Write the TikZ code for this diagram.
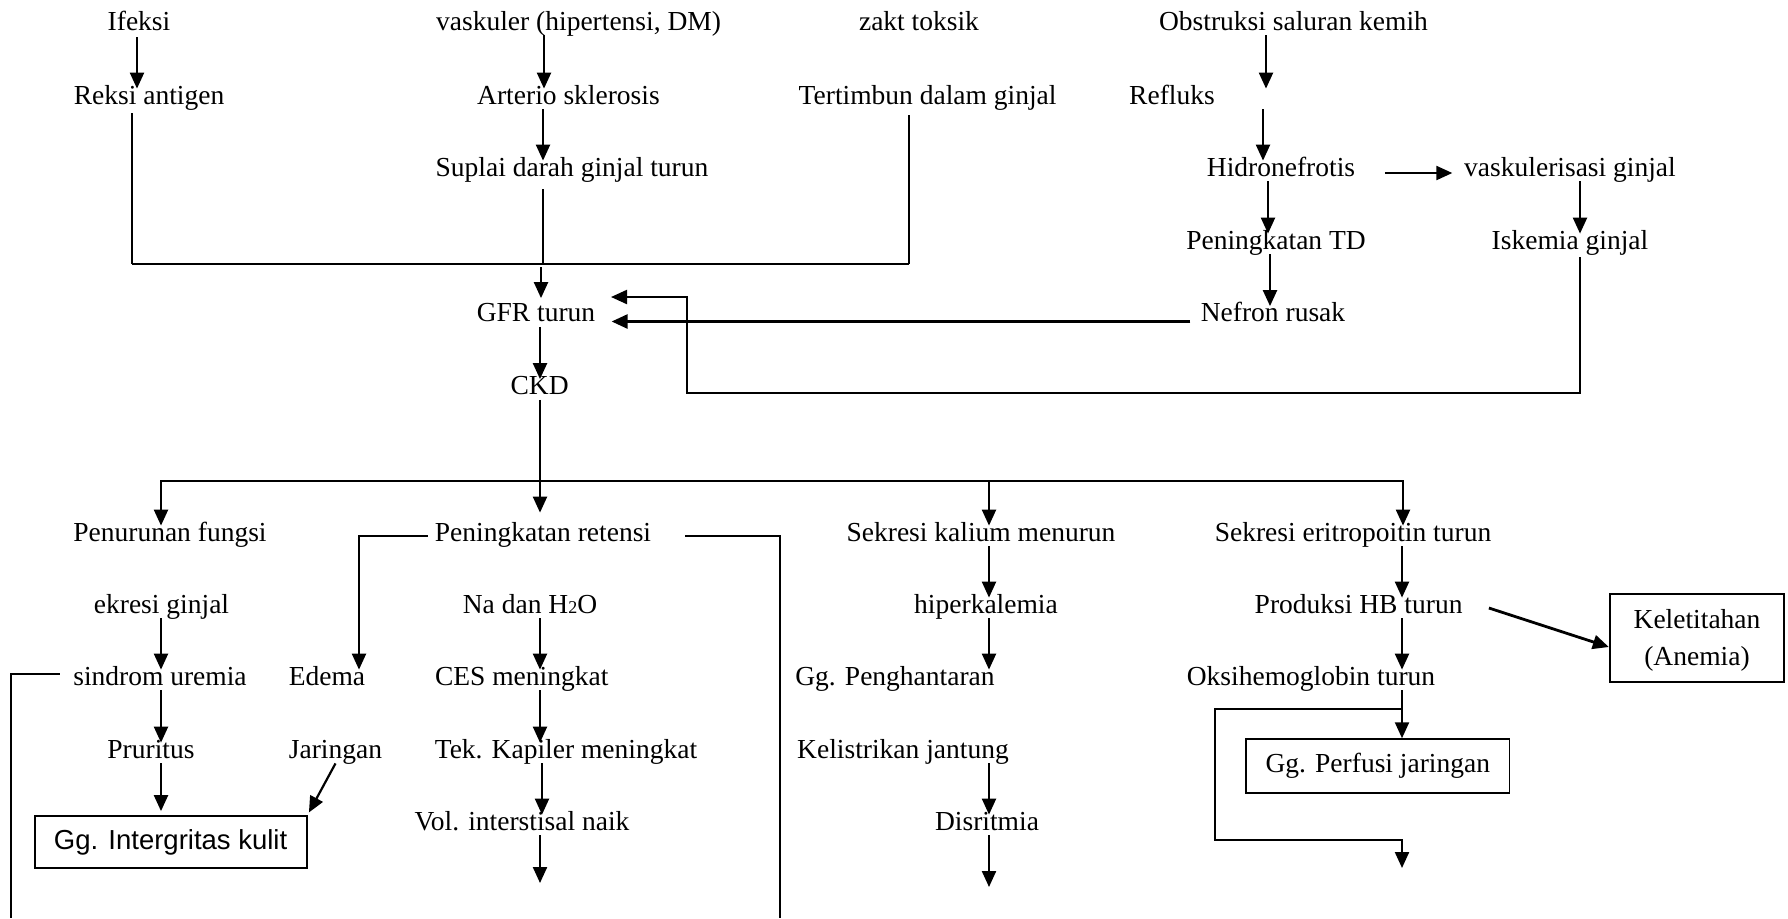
\documentclass[tikz,border=0pt]{standalone}
\usepackage{fontspec}
\setmainfont{Liberation Serif}
\newfontfamily\arialf{Liberation Sans}
\usetikzlibrary{arrows.meta,calc}
\begin{document}
\begin{tikzpicture}[x=0.5pt,y=-0.5pt,
  font=\fontsize{13.75}{18.5}\selectfont,
  txt/.style={inner sep=0pt,text height=0.75em,text depth=0.25em,anchor=base},
  ln/.style={line width=1.1pt},
  thinln/.style={line width=0.8pt},
  arr/.style={line width=1.1pt,-{Triangle[length=8pt,width=7pt]}},
  boxn/.style={draw,line width=0.9pt,inner sep=0pt,align=center}]
\useasboundingbox (0,0) rectangle (1788,918);
% row A
\node[txt] (ifeksi) at (139,30) {Ifeksi};
\node[txt] (vask) at (578.6,30) {vaskuler (hipertensi, DM)};
\node[txt] (zakt) at (919,30) {zakt toksik};
\node[txt] (obs) at (1293.5,30) {Obstruksi saluran kemih};
% row B
\node[txt] (reksi) at (149,104) {Reksi antigen};
\node[txt] (arterio) at (568.5,104) {Arterio sklerosis};
\node[txt] (tertimbun) at (927.6,104) {Tertimbun dalam ginjal};
\node[txt] (refluks) at (1172,104) {Refluks};
% row C
\node[txt] (suplai) at (572,176) {Suplai darah ginjal turun};
\node[txt] (hidro) at (1281,176) {Hidronefrotis};
\node[txt] (vaskgin) at (1570,176) {vaskulerisasi ginjal};
% row D
\node[txt] (pentd) at (1276,249) {Peningkatan TD};
\node[txt] (iskemia) at (1570,249) {Iskemia ginjal};
% GFR, CKD
\node[txt] (gfr) at (536,321.5) {GFR turun};
\node[txt] (nefron) at (1273,321.5) {Nefron rusak};
\node[txt] (ckd) at (539.6,394.5) {CKD};
% row E
\node[txt] (penfungsi) at (170,541) {Penurunan fungsi};
\node[txt] (penretensi) at (543,541) {Peningkatan retensi};
\node[txt] (sekkal) at (981,541) {Sekresi kalium menurun};
\node[txt] (sekeri) at (1353,541) {Sekresi eritropoitin turun};
% row F
\node[txt] (ekresi) at (161.5,613) {ekresi ginjal};
\node[txt] (nadan) at (530,613) {Na dan H{\fontsize{9}{9}\selectfont 2}O};
\node[txt] (hiper) at (986,613) {hiperkalemia};
\node[txt] (prodhb) at (1358.6,613) {Produksi HB turun};
% row G
\node[txt] (sindrom) at (160,685) {sindrom uremia};
\node[txt] (edema) at (327,685) {Edema};
\node[txt] (ces) at (521.7,685) {CES meningkat};
\node[txt] (gpeng) at (895,685) {Gg. Penghantaran};
\node[txt] (oksi) at (1311,685) {Oksihemoglobin turun};
% row H
\node[txt] (pruritus) at (151,758) {Pruritus};
\node[txt] (jaringan) at (335.5,758) {Jaringan};
\node[txt] (tek) at (566,758) {Tek. Kapiler meningkat};
\node[txt] (kelis) at (903,758) {Kelistrikan jantung};
% row I
\node[txt] (vol) at (522,830) {Vol. interstisal naik};
\node[txt] (disrit) at (987,830) {Disritmia};
% boxes
\node[boxn,minimum width=136pt,minimum height=26pt,font={\arialf\fontsize{13.75}{16}\selectfont}] (box1) at (170.6,842) {Gg. Intergritas kulit};
\node[boxn,minimum width=131.75pt,minimum height=26.85pt] (box2) at (1377.8,766) {Gg. Perfusi jaringan};
\node[boxn,minimum width=87.25pt,minimum height=43.7pt,text depth=1pt] (box3) at (1697,638) {Keletitahan\\(Anemia)};
% coordinates
\coordinate (bus) at (540,481);
\coordinate (gin) at (611,297);
\coordinate (out1) at (780,918);
\coordinate (out2) at (11,918);
\coordinate (out3) at (540,883);
\coordinate (out4) at (1402,868);
\coordinate (out5) at (989,887);
\coordinate (br) at (1402,709);
% top connectors
\draw[arr,shorten <=1pt] (ifeksi.south -| 137,0) -- (reksi.north -| 137,0);
\draw[arr] (vask.south -| 544,0) -- (arterio.north -| 544,0);
\draw[arr] (arterio.south -| 543,0) -- (suplai.north -| 543,0);
\draw[thinln,shorten <=2pt] (reksi.south -| 132,0) -- (132,264);
\draw[ln] (131.6,264) -- (909.4,264);
\draw[thinln,shorten >=3pt] (909,264) -- (tertimbun.south -| 909,0);
\draw[thinln,shorten <=4pt] (suplai.south -| 543,0) -- (543,264);
\draw[arr,shorten >=4pt] (541,267) -- (gfr.north -| 541,0);
\draw[arr] (obs.south -| 1266,0) -- (refluks.north -| 1266,0);
\draw[arr] (refluks.south -| 1263,0) -- (hidro.north -| 1263,0);
\draw[arr,shorten <=14.75pt,shorten >=5.75pt] ([yshift=-1pt]hidro.east) -- ([yshift=-1pt]vaskgin.west);
\draw[arr] (hidro.south -| 1268,0) -- (pentd.north -| 1268,0);
\draw[arr] (vaskgin.south -| 1580,0) -- (iskemia.north -| 1580,0);
\draw[arr] (pentd.south -| 1270,0) -- (nefron.north -| 1270,0);
\draw[arr,line width=1.3pt] ([xshift=-5pt,yshift=-2.5pt]nefron.west) -- ([xshift=8pt,yshift=-2.5pt]gfr.east);
\draw[arr,shorten <=1.5pt] (iskemia.south -| 1580,0) -- (1580,393) -- (687,393) -- (687,297) -- (gin);
\draw[arr] (gfr.south -| 540,0) -- (ckd.north -| 540,0);
% bus
\draw[ln] (ckd.south -| 540,0) -- (bus);
\draw[arr,shorten >=6.5pt] (bus) -- (penretensi.north -| 540,0);
\draw[arr] (bus) -| (penfungsi.north -| 161,0);
\draw[arr] (bus) -| (sekkal.north -| 989,0);
\draw[arr] (bus) -| (sekeri.north -| 1403,0);
% left branch
\draw[arr] ([xshift=-3.5pt]penretensi.west) -| (edema.north -| 359,0);
\draw[ln] ([xshift=17pt]penretensi.east) -| (out1);
\draw[arr] (ekresi.south -| 161,0) -- (sindrom.north -| 161,0);
\draw[ln] ([xshift=-6.5pt,yshift=3pt]sindrom.west) -| (out2);
\draw[arr] (nadan.south -| 540,0) -- (ces.north -| 540,0);
\draw[arr] (sindrom.south -| 161,0) -- (pruritus.north -| 161,0);
\draw[arr] (ces.south -| 540,0) -- (tek.north -| 540,0);
\draw[arr,shorten >=2pt] (pruritus.south -| 161,0) -- (box1.north -| 161,0);
\draw[arr,shorten >=1.5pt] (jaringan.south) -- (box1.north east);
\draw[arr] (tek.south -| 542,0) -- (vol.north -| 542,0);
\draw[arr] (vol.south -| 540,0) -- (out3);
% right branches
\draw[arr] (sekkal.south -| 989,0) -- (hiper.north -| 989,0);
\draw[arr] (sekeri.south -| 1402,0) -- (prodhb.north -| 1402,0);
\draw[arr,line width=1.4pt] ([xshift=13pt]prodhb.east) -- ([yshift=-4.5pt]box3.west);
\draw[arr] (hiper.south -| 989,0) -- (gpeng.north -| 989,0);
\draw[arr] (prodhb.south -| 1402,0) -- (oksi.north -| 1402,0);
\draw[arr] (oksi.south -| 1402,0) -- (box2.north -| 1402,0);
\draw[arr] (br) -- (1215,709) -- (1215,840) -- (1402,840) -- (out4);
\draw[arr] (kelis.south -| 989,0) -- (disrit.north -| 989,0);
\draw[arr] (disrit.south -| 989,0) -- (out5);
\end{tikzpicture}
\end{document}
